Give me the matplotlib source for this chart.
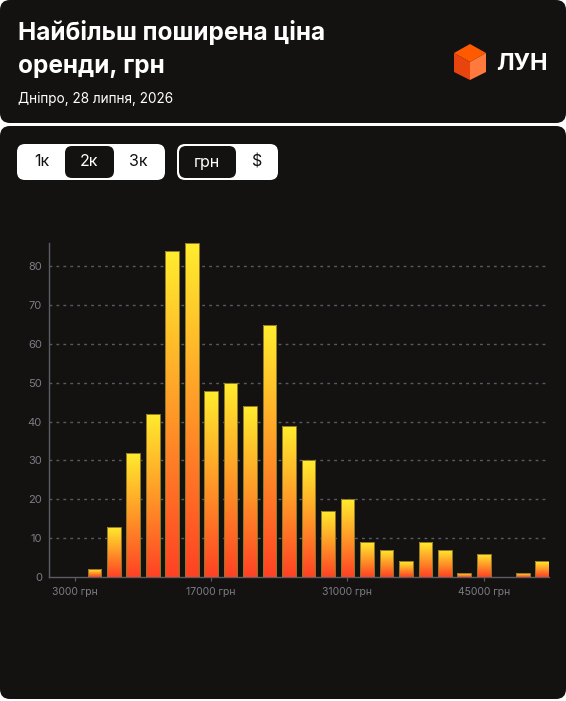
import matplotlib
matplotlib.use("Agg")
import matplotlib.pyplot as plt
import numpy as np
from matplotlib.colors import LinearSegmentedColormap
from matplotlib.patches import FancyBboxPatch, Polygon

plt.rcParams["font.family"] = ["Inter", "DejaVu Sans"]

# bin centres (2к step) and counts
bin_centers = [3000, 5000, 7000, 9000, 11000, 13000, 15000, 17000, 19000, 21000,
               23000, 25000, 27000, 29000, 31000, 33000, 35000, 37000, 39000,
               41000, 43000, 45000, 47000, 49000, 51000]
counts = [0, 2, 13, 32, 42, 84, 86, 48, 50, 44,
          65, 39, 30, 17, 20, 9, 7, 4, 9,
          7, 1, 6, 0, 1, 4]
xtick_vals = [3000, 17000, 31000, 45000]
xtick_labels = ["3000 грн", "17000 грн", "31000 грн", "45000 грн"]
ytick_vals = [0, 10, 20, 30, 40, 50, 60, 70, 80]

title_lines = ["Найбільш поширена ціна", "оренди, грн"]
subtitle = "Дніпро, 28 липня, 2026"

DARK = "#131211"
W, H = 566, 701

fig = plt.figure(figsize=(W / 100, H / 100), dpi=100)
fig.patch.set_facecolor("white")

# background axes in pixel coordinates
bg = fig.add_axes([0, 0, 1, 1])
bg.set_xlim(0, W)
bg.set_ylim(H, 0)
bg.axis("off")

bg.add_patch(FancyBboxPatch((0, 0), W, 123, boxstyle="round,pad=0,rounding_size=10",
                            fc=DARK, ec="none"))
bg.add_patch(FancyBboxPatch((0, 126), W, 573, boxstyle="round,pad=0,rounding_size=10",
                            fc=DARK, ec="none"))

bg.text(18, 40, title_lines[0], color="white", fontsize=17.5,
        fontweight="bold", va="baseline", ha="left")
bg.text(18, 73, title_lines[1], color="white", fontsize=17.5,
        fontweight="bold", va="baseline", ha="left")
bg.text(18, 103, subtitle, color="white", fontsize=9.8, va="baseline", ha="left")

# logo cube
cx, cy = 470, 62
top, ur, lr, bot, ll, ul = (470, 44), (486, 53), (486, 72), (470, 80), (454, 72), (454, 53)
bg.add_patch(Polygon([top, ur, (cx, cy), ul], closed=True, fc="#ff5a00", ec="none"))
bg.add_patch(Polygon([ul, (cx, cy), bot, ll], closed=True, fc="#e8450e", ec="none"))
bg.add_patch(Polygon([(cx, cy), ur, lr, bot], closed=True, fc="#ff7a3c", ec="none"))
bg.text(496, 70, "ЛУН", color="white", fontsize=17, fontweight="bold",
        va="baseline", ha="left")

# toggle buttons
bg.add_patch(FancyBboxPatch((17, 144), 148, 36, boxstyle="round,pad=0,rounding_size=8",
                            fc="white", ec="none"))
bg.add_patch(FancyBboxPatch((65, 146), 49, 32, boxstyle="round,pad=0,rounding_size=7",
                            fc=DARK, ec="none"))
bg.add_patch(FancyBboxPatch((177, 144), 101, 36, boxstyle="round,pad=0,rounding_size=8",
                            fc="white", ec="none"))
bg.add_patch(FancyBboxPatch((179, 146), 57, 32, boxstyle="round,pad=0,rounding_size=7",
                            fc=DARK, ec="none"))
for label, x, col in [("1к", 42, DARK), ("2к", 89, "white"), ("3к", 138, DARK),
                      ("грн", 207, "white"), ("$", 257, DARK)]:
    bg.text(x, 162, label, color=col, fontsize=11.5, ha="center", va="center")

# chart
ax = fig.add_axes([49 / W, (H - 577) / H, 500 / W, 334 / H])
ax.set_facecolor("none")

cmap = LinearSegmentedColormap.from_list("heat", ["#ff4124", "#ff9a28", "#fff02e"])
grad = np.linspace(0, 1, 256).reshape(-1, 1)
bar_w = 1400
bars = ax.bar(bin_centers, counts, width=bar_w, facecolor="none", edgecolor="#8f7a22",
              linewidth=0.7, zorder=4)
for rect, c, v in zip(bars, bin_centers, counts):
    if v <= 0:
        continue
    # gradient runs over each bar's own height, clipped to the bar shape
    im = ax.imshow(grad, extent=[c - bar_w, c + bar_w, 0, v * 1.02], origin="lower",
                   aspect="auto", cmap=cmap, zorder=3)
    im.set_clip_path(rect)

ax.set_xlim(340, 51700)
ax.set_ylim(0, 86)

for y in ytick_vals[1:]:
    ax.axhline(y, color="#5a5a66", linewidth=1, linestyle=(0, (2, 3)), zorder=1)

ax.set_xticks(xtick_vals)
ax.set_xticklabels(xtick_labels)
ax.set_yticks(ytick_vals)
ax.tick_params(axis="x", colors="#5c5c66", labelcolor="#7c7c86", labelsize=7.5,
               length=3, pad=4)
ax.tick_params(axis="y", length=0, labelcolor="#7c7c86", labelsize=8, pad=5)

for side in ["top", "right"]:
    ax.spines[side].set_visible(False)
for side in ["left", "bottom"]:
    ax.spines[side].set_color("#5c5c66")
    ax.spines[side].set_linewidth(1)

fig.savefig("out.png", dpi=100, facecolor=fig.get_facecolor())
